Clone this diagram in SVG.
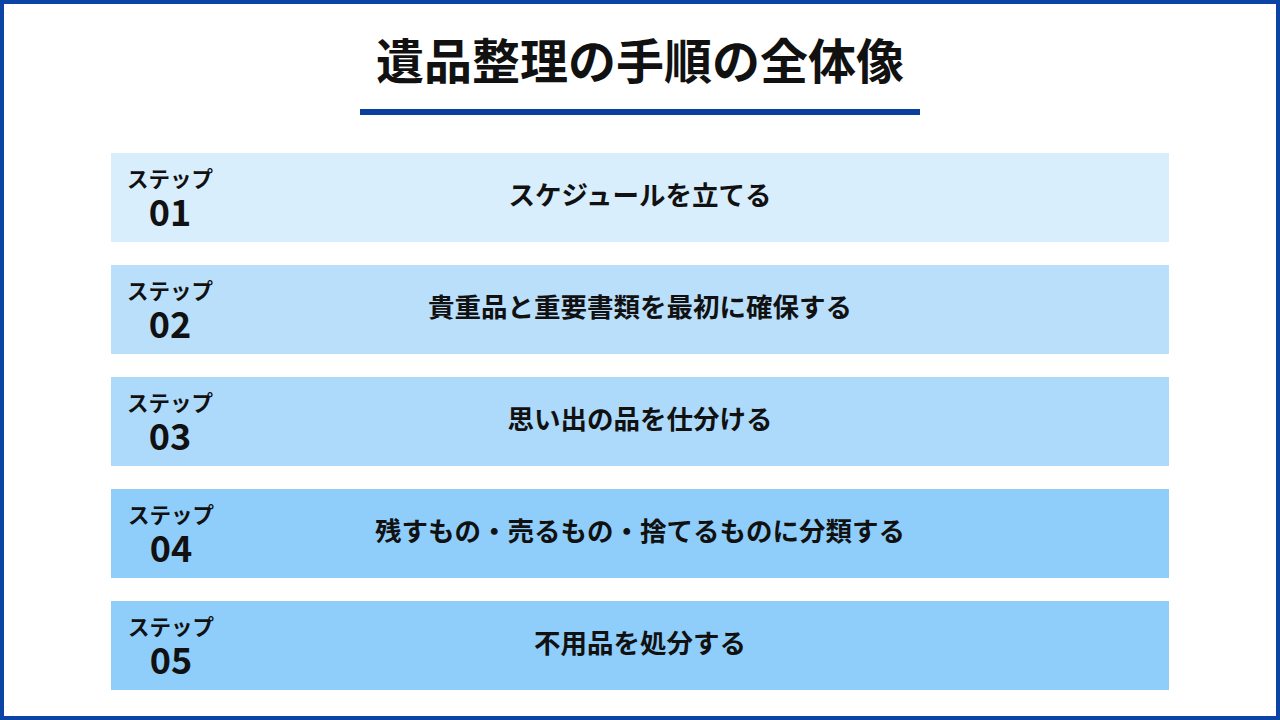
<svg xmlns="http://www.w3.org/2000/svg" width="1280" height="720" viewBox="0 0 1280 720">
<style>
.t{font-family:"Noto Sans CJK JP","Noto Sans",sans-serif;font-weight:700;fill:#111;text-anchor:middle}
.lbl{font-size:21.5px}
.num{font-size:36px}
.main{font-size:26.5px}
</style>
<rect x="2" y="2" width="1276" height="716" fill="#fff" stroke="#0A45A6" stroke-width="4"/>
<g id="title">
<text class="t" x="640" y="79" font-size="48">遺品整理の手順の全体像</text>
<rect x="360" y="109" width="560" height="6" fill="#0A3FA0"/>
</g>
<g id="step1">
<rect x="111" y="153" width="1058" height="89" fill="#D8EEFC"/>
<text class="t lbl" x="170" y="187">ステップ</text>
<text class="t num" x="170" y="226">01</text>
<text class="t main" x="640" y="205">スケジュールを立てる</text>
</g>
<g id="step2">
<rect x="111" y="265" width="1058" height="89" fill="#BADFFB"/>
<text class="t lbl" x="170" y="299">ステップ</text>
<text class="t num" x="170" y="338">02</text>
<text class="t main" x="640" y="317">貴重品と重要書類を最初に確保する</text>
</g>
<g id="step3">
<rect x="111" y="377" width="1058" height="89" fill="#ADDAFB"/>
<text class="t lbl" x="170" y="411">ステップ</text>
<text class="t num" x="170" y="450">03</text>
<text class="t main" x="640" y="429">思い出の品を仕分ける</text>
</g>
<g id="step4">
<rect x="111" y="489" width="1058" height="89" fill="#8FCEFA"/>
<text class="t lbl" x="171" y="523">ステップ</text>
<text class="t num" x="171" y="562">04</text>
<text class="t main" x="640" y="541">残すもの・売るもの・捨てるものに分類する</text>
</g>
<g id="step5">
<rect x="111" y="601" width="1058" height="89" fill="#8FCEFA"/>
<text class="t lbl" x="171" y="635">ステップ</text>
<text class="t num" x="171" y="674">05</text>
<text class="t main" x="640" y="653">不用品を処分する</text>
</g>
<g id="connectors"/>
</svg>
